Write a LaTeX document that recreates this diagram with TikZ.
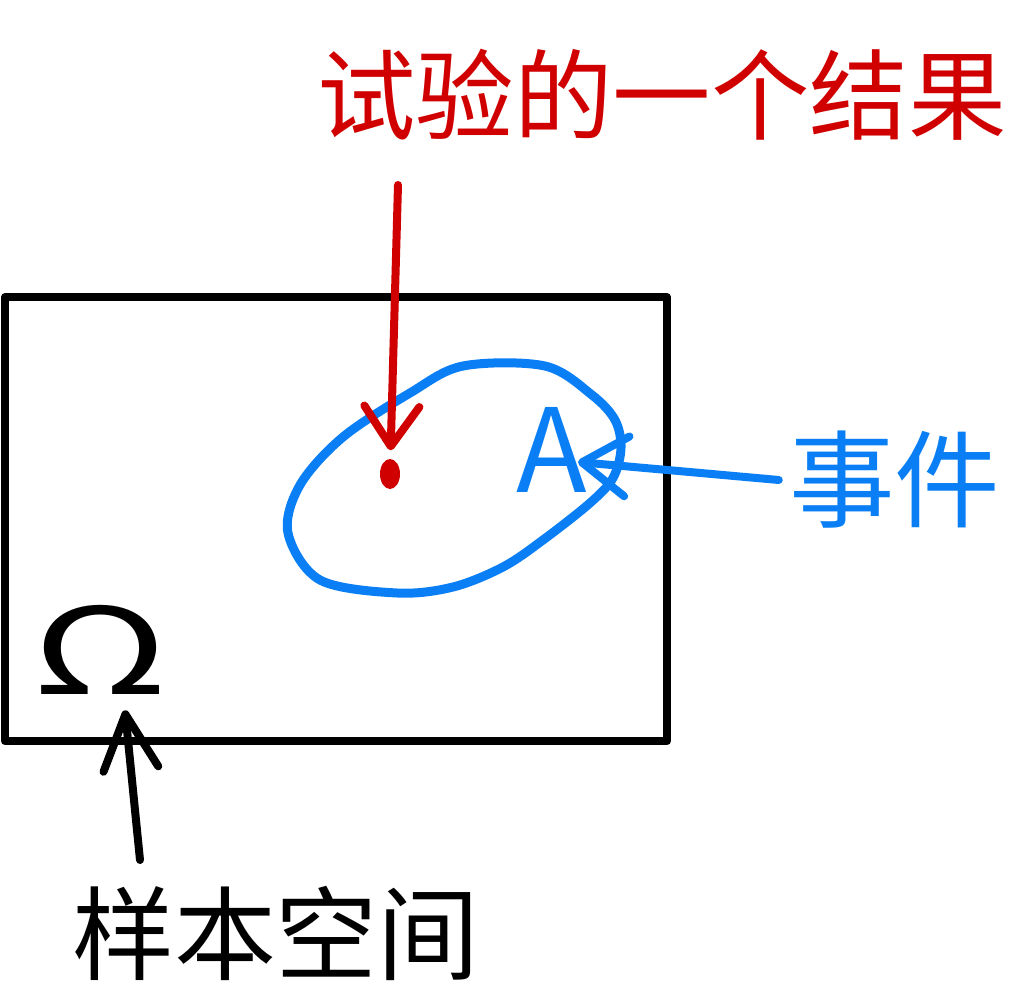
\documentclass[tikz,border=0pt]{standalone}
\usepackage{fontspec}
\usetikzlibrary{arrows.meta, shapes.geometric}
\newfontfamily\cjk{Noto Sans CJK SC}
\definecolor{SketchRed}{HTML}{D00000}
\definecolor{SketchBlue}{HTML}{0A7FF5}
\definecolor{SketchInk}{HTML}{000000}

\begin{document}
\begin{tikzpicture}[x=0.01cm, y=-0.01cm,
        handtext/.style={inner sep=0pt, font=\cjk\fontsize{28}{30}\selectfont},
        arrow/.style={->, line width=0.08cm, line cap=round,
                      >={Straight Barb[round, length=0.4cm, width=0.55cm]}},
        frame/.style={draw=SketchInk, line width=0.08cm, line join=round},
        ring/.style={draw=SketchBlue, line width=0.09cm, line join=round}
    ]
        \useasboundingbox (0,0) rectangle (1023,1000);

        % sample space and event
        \draw[frame] (5,297) rectangle (667,741);
        \draw[ring] plot[smooth cycle, tension=0.55] coordinates {
            (545,366) (463,366) (410,393) (343,437) (300,485) (288,533)
            (320,580) (397,593) (453,587) (503,567) (543,540) (590,503)
            (613,478) (621,448) (615,420) (592,395)};

        \node[handtext, text=SketchRed] (title) at (662,95) {试验的一个结果};
        \node[ellipse, fill=SketchRed, minimum width=0.2cm, minimum height=0.3cm, inner sep=0pt] (outcome) at (390,474) {};
        \node[handtext, text=SketchBlue, font=\cjk\fontsize{33}{36}\selectfont] (eventA) at (552,450) {A};
        \node[handtext, text=SketchBlue, font=\cjk\fontsize{30}{32}\selectfont] (shijian) at (895,480) {事件};
        \node[handtext, text=SketchInk, font=\cjk\fontsize{34}{38}\selectfont] (omega) at (100,650) {\scalebox{1.5}[1]{Ω}};
        \node[handtext, text=SketchInk, font=\cjk\fontsize{29}{31}\selectfont] (sspace) at (276,933) {样本空间};

        \coordinate (r0) at (398,185);
        \coordinate (b0) at (140,860);

        \draw[arrow, SketchRed, shorten >=0.08cm] (r0) -- (outcome);
        \draw[arrow, SketchBlue, >={Straight Barb[round, length=0.45cm, width=0.6cm]}] ([xshift=-0.1cm]shijian.west) -- ([xshift=-0.1cm, yshift=-0.12cm]eventA.east);
        \draw[arrow, SketchInk, >={Straight Barb[round, length=0.55cm, width=0.55cm]}] (b0) -- ([xshift=0.25cm, yshift=-0.15cm]omega.south);
    \end{tikzpicture}
\end{document}
